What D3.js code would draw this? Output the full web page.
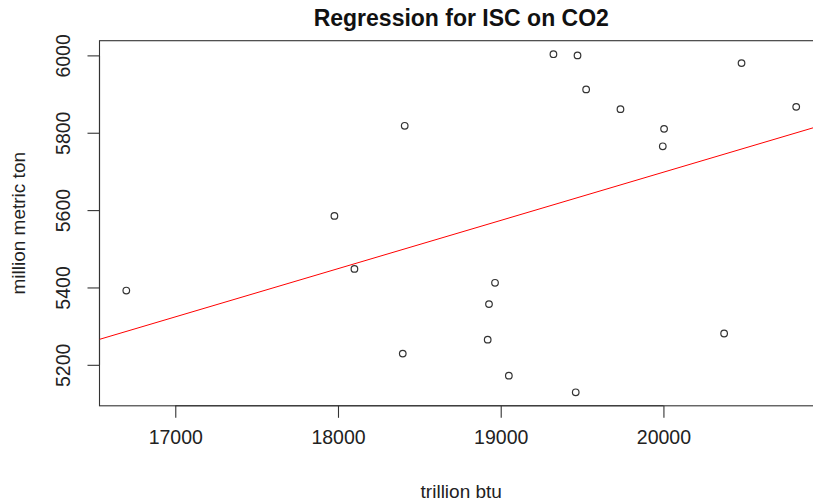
<!DOCTYPE html>
<html>
<head>
<meta charset="utf-8">
<script src="https://cdn.jsdelivr.net/npm/d3@7.9.0/dist/d3.min.js"></script>
<style>
  body { margin: 0; background: #fff; }
  svg { display: block; font-family: "Liberation Sans", Arial, sans-serif; }
</style>
</head>
<body>
<div id="chart"></div>
<script>
// energy use (trillion btu) vs CO2 (million metric ton)
const energy = [16699, 17978, 18101, 18410, 18398, 19324, 19472, 19525, 19736, 20004,
                19996, 20480, 20816, 18965, 18928, 18920, 19050, 19461, 20373];
const co2 = [5392, 5585, 5448, 5818, 5229, 6003, 6000, 5912, 5861, 5810,
             5765, 5980, 5867, 5412, 5357, 5265, 5172, 5129, 5281];
const xTicks = [17000, 18000, 19000, 20000];
const yTicks = [5200, 5400, 5600, 5800, 6000];
// abline(lm(co2 ~ energy))
const fitIntercept = 3204;
const fitSlope = 0.1247;

const width = 813;
const height = 502;
const plot = { left: 99.5, right: 823, top: 40.7, bottom: 405.8 };

// R style axis range: data range padded 4% on each side
function padded(vals) {
    const [lo, hi] = d3.extent(vals);
    const pad = (hi - lo) * 0.04;
    return [lo - pad, hi + pad];
}

const svg = d3.select('#chart')
    .append('svg')
    .attr('width', width)
    .attr('height', height);

const xScale = d3.scaleLinear()
    .domain(padded(energy))
    .range([plot.left, plot.right]);

const yScale = d3.scaleLinear()
    .domain(padded(co2))
    .range([plot.bottom, plot.top]);

svg.append('defs')
    .append('clipPath')
    .attr('id', 'clip')
    .append('rect')
    .attr('x', plot.left)
    .attr('y', plot.top)
    .attr('width', plot.right - plot.left)
    .attr('height', plot.bottom - plot.top);

// x axis
const xAxis = svg.append('g')
    .attr('transform', `translate(0, ${plot.bottom})`)
    .call(d3.axisBottom(xScale).tickValues(xTicks).tickSize(12).tickPadding(12).tickFormat(d3.format('d')).tickSizeOuter(0));
xAxis.select('.domain')
    .attr('d', `M${xScale(xTicks[0])},0H${xScale(xTicks[xTicks.length - 1])}`);

// y axis, labels rotated like R
const yAxis = svg.append('g')
    .attr('transform', `translate(${plot.left}, 0)`)
    .call(d3.axisLeft(yScale).tickValues(yTicks).tickSize(12).tickFormat(d3.format('d')).tickSizeOuter(0));
yAxis.select('.domain')
    .attr('d', `M0,${yScale(yTicks[0])}V${yScale(yTicks[yTicks.length - 1])}`);
yAxis.selectAll('.tick text')
    .attr('x', null).attr('dy', null)
    .attr('text-anchor', 'middle')
    .attr('transform', 'translate(-29.5, 0) rotate(-90)');

svg.selectAll('.tick text')
    .style('font-size', '19.5px')
    .style('font-family', '"Liberation Sans", Arial, sans-serif')
    .attr('fill', '#222');
svg.selectAll('.tick line, .domain')
    .attr('stroke', '#333')
    .attr('stroke-width', 1.1);

// plot box
svg.append('rect')
    .attr('x', plot.left)
    .attr('y', plot.top)
    .attr('width', plot.right - plot.left)
    .attr('height', plot.bottom - plot.top)
    .attr('fill', 'none')
    .attr('stroke', '#333')
    .attr('stroke-width', 1.1);

// regression line
const [x0, x1] = xScale.domain();
svg.append('line')
    .attr('clip-path', 'url(#clip)')
    .attr('x1', xScale(x0))
    .attr('y1', yScale(fitIntercept + fitSlope * x0))
    .attr('x2', xScale(x1))
    .attr('y2', yScale(fitIntercept + fitSlope * x1))
    .attr('stroke', '#ff0000')
    .attr('stroke-width', 1);

// points
svg.append('g')
    .selectAll('circle')
    .data(energy.map((e, i) => ({ x: e, y: co2[i] })))
    .join('circle')
    .attr('cx', d => xScale(d.x))
    .attr('cy', d => yScale(d.y))
    .attr('r', 3.3)
    .attr('fill', 'none')
    .attr('stroke', '#333')
    .attr('stroke-width', 1.2);

// titles
svg.append('text')
    .attr('x', (plot.left + plot.right) / 2)
    .attr('y', 26)
    .attr('text-anchor', 'middle')
    .style('font-size', '23px')
    .style('font-weight', 'bold')
    .attr('fill', '#111')
    .text('Regression for ISC on CO2');

svg.append('text')
    .attr('x', (plot.left + plot.right) / 2)
    .attr('y', 498)
    .attr('text-anchor', 'middle')
    .style('font-size', '19px')
    .attr('fill', '#222')
    .text('trillion btu');

svg.append('text')
    .attr('transform', `translate(25, ${(plot.top + plot.bottom) / 2}) rotate(-90)`)
    .attr('text-anchor', 'middle')
    .style('font-size', '19px')
    .attr('fill', '#222')
    .text('million metric ton');
</script>
</body>
</html>
